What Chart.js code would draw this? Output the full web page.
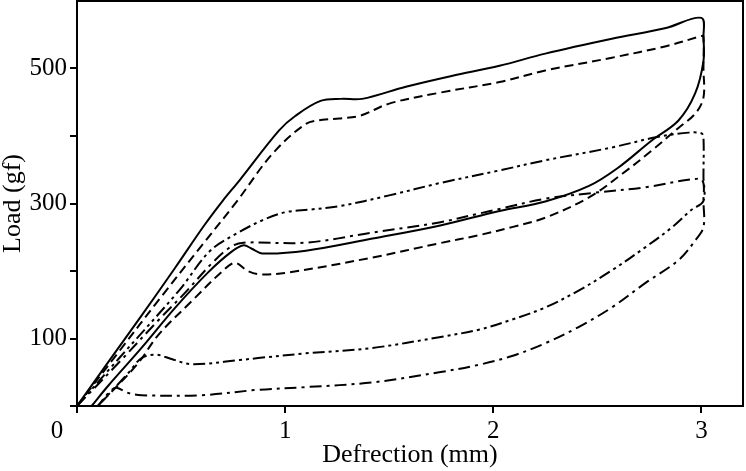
<!DOCTYPE html>
<html>
<head>
<meta charset="utf-8">
<script src="https://cdn.jsdelivr.net/npm/chart.js@4.4.1/dist/chart.umd.min.js"></script>
<style>
  html, body { margin: 0; padding: 0; background: #fff; }
  canvas { display: block; }
</style>
</head>
<body>
<canvas id="chart" width="746" height="471"></canvas>
<script>
// load-deflection loops, loading branch first then unloading back to zero
const solidX = [0, 0.15, 0.31, 0.47, 0.61, 0.70, 0.78, 0.97, 1.05, 1.17, 1.27, 1.37, 1.58, 1.80, 2.03, 2.25, 2.57, 2.83, 3.00,
    3.01, 3.01, 2.97, 2.89, 2.76, 2.60, 2.46, 2.25, 2.03, 1.74, 1.42, 1.10, 0.89, 0.84, 0.80, 0.74, 0.63, 0.47, 0.31, 0.15, 0.07];
const solidY = [0, 65, 134, 204, 267, 304, 334, 408, 430, 452, 455, 455, 473, 489, 504, 522, 544, 560, 575,
    545, 511, 463, 423, 393, 353, 326, 303, 289, 267, 248, 230, 226, 233, 238, 228, 198, 145, 86, 30, 0];

const dashedX = [0, 0.20, 0.40, 0.60, 0.77, 0.94, 1.10, 1.18, 1.26, 1.36, 1.50, 1.74, 2.03, 2.25, 2.57, 2.83, 3.00,
    3.01, 3.01, 3.01, 2.97, 2.89, 2.76, 2.62, 2.46, 2.25, 2.09, 1.93, 1.74, 1.42, 1.02, 0.88, 0.82, 0.76, 0.70, 0.55, 0.39, 0.29, 0.10];
const dashedY = [0, 80, 160, 238, 304, 374, 418, 424, 426, 430, 448, 464, 480, 497, 516, 533, 548,
    548, 500, 457, 433, 412, 378, 344, 309, 279, 265, 253, 241, 220, 198, 195, 200, 212, 200, 155, 105, 62, 0];

const dashDotDotX = [0, 0.20, 0.49, 0.64, 0.77, 0.89, 1.00, 1.12, 1.26, 1.50, 1.74, 2.03, 2.25, 2.57, 2.78, 2.94, 3.00,
    3.01, 3.01, 3.01, 2.95, 2.86, 2.73, 2.57, 2.41, 2.25, 2.09, 1.93, 1.74, 1.42, 1.10, 0.87, 0.78, 0.55, 0.45, 0.38, 0.31, 0.25, 0.10];
const dashDotDotY = [0, 70, 171, 230, 256, 275, 287, 291, 296, 312, 330, 349, 364, 383, 398, 405, 404,
    398, 340, 304, 290, 265, 235, 201, 171, 146, 128, 113, 102, 86, 78, 71, 68, 62, 70, 76, 71, 50, 0];

const dashDotX = [0, 0.20, 0.40, 0.52, 0.65, 0.74, 0.80, 1.10, 1.42, 1.74, 1.93, 2.03, 2.25, 2.49, 2.73, 2.99,
    3.01, 3.01, 3.01, 2.97, 2.89, 2.73, 2.57, 2.41, 2.25, 2.09, 1.93, 1.74, 1.42, 1.10, 0.87, 0.60, 0.31, 0.24, 0.19, 0.16, 0.10];
const dashDotY = [0, 64, 130, 168, 212, 236, 242, 242, 257, 272, 285, 292, 307, 316, 324, 337,
    330, 304, 265, 245, 216, 182, 146, 117, 93, 74, 61, 50, 35, 28, 24, 16, 16, 20, 27, 22, 0];

const xTicks = [0, 1, 2, 3];
const yTicks = [0, 100, 200, 300, 400, 500];
const yLabelled = [100, 300, 500];

const toPoints = (xs, ys) => xs.map((x, i) => ({x: x, y: ys[i]}));

const serif = 'Liberation Serif';

const line = (data, dash) => ({
    data: data,
    borderColor: '#000',
    borderWidth: 2,
    borderDash: dash,
    pointRadius: 0,
    showLine: true,
    fill: false,
    tension: 0.35,
});

// no extra room for edge labels, the plot box is fixed
const noPad = (s) => {
    s.paddingTop = 0;
    s.paddingBottom = 0;
    s.paddingLeft = 0;
    s.paddingRight = 0;
};

const frame = {
    id: 'frame',
    afterDraw(chart) {
        const {ctx, chartArea: a} = chart;
        ctx.save();
        ctx.strokeStyle = '#000';
        ctx.lineWidth = 2;
        ctx.strokeRect(a.left, a.top, a.right - a.left, a.bottom - a.top);
        // shared origin label sits left of the corner
        ctx.fillStyle = '#000';
        ctx.font = '25px "' + serif + '"';
        ctx.textAlign = 'center';
        ctx.textBaseline = 'middle';
        ctx.fillText('0', a.left - 20, a.bottom + 25);
        ctx.restore();
    }
};

new Chart(document.getElementById('chart'), {
    type: 'scatter',
    data: {
        datasets: [
            line(toPoints(solidX, solidY), []),
            line(toPoints(dashedX, dashedY), [9, 5]),
            line(toPoints(dashDotDotX, dashDotDotY), [12, 4, 3, 4, 3, 4]),
            line(toPoints(dashDotX, dashDotY), [12, 5, 3, 5]),
        ],
    },
    options: {
        responsive: false,
        animation: false,
        layout: {padding: {top: 1, right: 3, left: 0, bottom: 0}},
        plugins: {
            legend: {display: false},
            tooltip: {enabled: false},
        },
        scales: {
            x: {
                type: 'linear',
                min: 0,
                max: 3.2,
                afterFit: (s) => { s.height = 65; noPad(s); },
                afterBuildTicks: (s) => { s.ticks = xTicks.map(v => ({value: v})); },
                grid: {drawOnChartArea: false, drawTicks: true, tickLength: 7, color: '#000', lineWidth: 2},
                border: {display: false},
                ticks: {
                    color: '#000',
                    padding: 3,
                    maxRotation: 0,
                    font: {family: serif, size: 25},
                    callback: (v) => (v === 0 ? '' : String(v)),
                },
                title: {
                    display: true,
                    text: 'Defrection (mm)',
                    color: '#000',
                    font: {family: serif, size: 26, lineHeight: 1},
                    padding: {top: 0, bottom: 3},
                },
            },
            y: {
                type: 'linear',
                min: 0,
                max: 600,
                afterFit: (s) => { s.width = 77; noPad(s); },
                afterBuildTicks: (s) => { s.ticks = yTicks.map(v => ({value: v})); },
                grid: {drawOnChartArea: false, drawTicks: true, tickLength: 7, color: '#000', lineWidth: 2},
                border: {display: false},
                ticks: {
                    color: '#000',
                    padding: 3,
                    font: {family: serif, size: 25},
                    callback: (v) => (yLabelled.includes(v) ? String(v) : ''),
                },
                title: {
                    display: true,
                    text: 'Load (gf)',
                    color: '#000',
                    font: {family: serif, size: 26, lineHeight: 1},
                    padding: {top: 0, bottom: 0},
                },
            },
        },
    },
    plugins: [frame],
});
</script>
</body>
</html>
